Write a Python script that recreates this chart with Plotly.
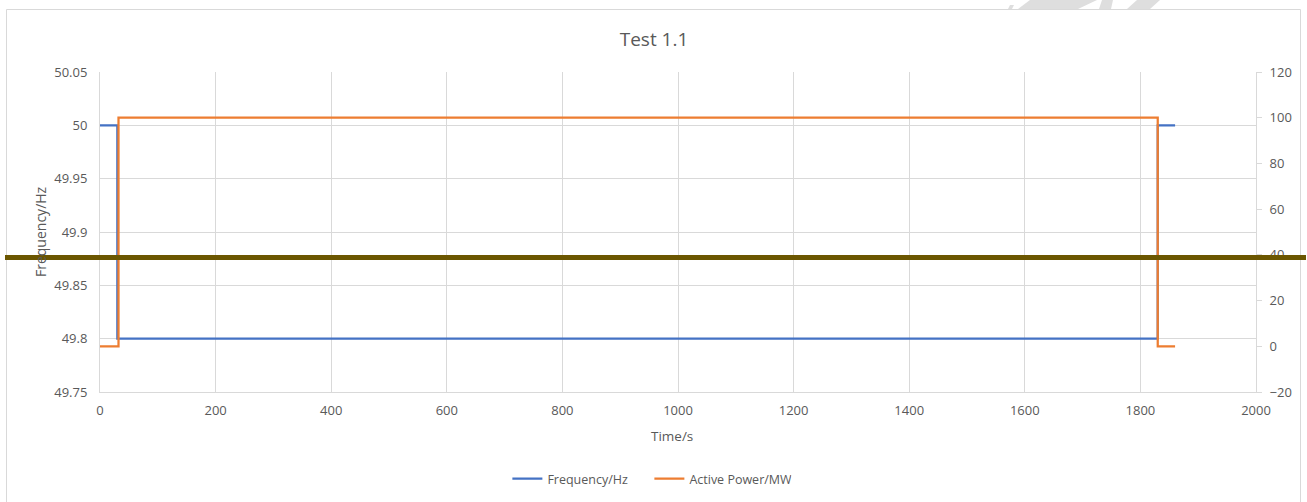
import plotly.graph_objects as go

# Data
freq_time = [0, 30, 1830, 1860]
freq_hz = [50.0, 49.8, 50.0, 50.0]
power_time = [0, 32, 1830, 1860]
power_mw = [0, 100, 0, 0]

left_ticks = [49.75, 49.8, 49.85, 49.9, 49.95, 50.0, 50.05]
left_labels = ["49.75", "49.8", "49.85", "49.9", "49.95", "50", "50.05"]
right_ticks = [-20, 0, 20, 40, 60, 80, 100, 120]
x_ticks = list(range(0, 2001, 200))

W, H = 1307, 502
L, R, T, B = 100, 1256, 72, 392  # plot area in page pixels


def px(x):
    return (x - L) / (R - L)


def py(y):
    return (B - y) / (B - T)


FONT = "Open Sans"
TXT = "#595959"
GRID = "#d9d9d9"

fig = go.Figure()
fig.add_trace(go.Scatter(x=freq_time, y=freq_hz, mode="lines", line_shape="hv",
                         name="Frequency/Hz", line=dict(color="#4472C4", width=2.25)))
fig.add_trace(go.Scatter(x=power_time, y=power_mw, mode="lines", line_shape="hv",
                         name="Active Power/MW", yaxis="y2",
                         line=dict(color="#ED7D31", width=2.25)))

shapes = [
    dict(type="rect", xref="paper", yref="paper", x0=px(6.5), x1=px(1300.5), y0=py(520), y1=py(9.5),
         line=dict(color="#d9d9d9", width=1), fillcolor="rgba(0,0,0,0)", layer="below"),
    dict(type="line", xref="paper", yref="paper", x0=px(5), x1=px(1306), y0=py(257.5), y1=py(257.5),
         line=dict(color="#6b5600", width=5)),
]
wm = [
    [(1008, 9), (1012, 9), (1014, 5), (1010, 5)],
    [(1030, 0), (1097, 0), (1078, 9), (1018, 9)],
    [(1102, 0), (1113, 0), (1111, 9), (1099, 9)],
    [(1137, 0), (1160, 0), (1150, 9), (1127, 9)],
]
for poly in wm:
    path = "M " + " L ".join(f"{px(a)},{py(b)}" for a, b in poly) + " Z"
    shapes.append(dict(type="path", xref="paper", yref="paper", path=path,
                       fillcolor="#dedede", line=dict(width=0)))

annotations = [
    dict(text="Frequency/Hz", xref="paper", yref="paper", x=px(40), y=py(232),
         xanchor="center", yanchor="middle", textangle=-90, showarrow=False,
         font=dict(size=14, color=TXT, family=FONT)),
    dict(text="Time/s", xref="paper", yref="paper", x=px(672), y=py(436),
         xanchor="center", yanchor="middle", showarrow=False,
         font=dict(size=13.5, color=TXT, family=FONT)),
]

fig.update_layout(
    width=W, height=H,
    margin=dict(l=L, r=W - R, t=T, b=H - B, autoexpand=False),
    paper_bgcolor="white", plot_bgcolor="white",
    font=dict(family=FONT, color=TXT, size=13),
    title=dict(text="Test 1.1", x=654 / W, xanchor="center", y=1 - 39 / H,
               yanchor="middle", font=dict(size=19, color=TXT, family=FONT)),
    xaxis=dict(range=[0, 2000], tickvals=x_ticks, showgrid=True, gridcolor=GRID, gridwidth=1,
               zeroline=False, showline=True, linecolor=GRID, ticks="", automargin=False,
               ticklabelstandoff=6, tickfont=dict(size=13, color=TXT)),
    yaxis=dict(range=[49.75, 50.05], tickvals=left_ticks, ticktext=left_labels, showgrid=True,
               gridcolor=GRID, zeroline=False, showline=True, linecolor=GRID, ticks="",
               ticklabelstandoff=9, automargin=False,
               tickfont=dict(size=13, color=TXT)),
    yaxis2=dict(range=[-20, 120], tickvals=right_ticks, overlaying="y", side="right",
                showgrid=False, zeroline=False, showline=True, linecolor=GRID,
                ticks="outside", ticklen=5, tickcolor=GRID, ticklabelstandoff=5, automargin=False,
                tickfont=dict(size=13, color=TXT)),
    legend=dict(orientation="h", x=px(512) - 0.004, xanchor="left", y=py(479), yanchor="middle",
                font=dict(size=12.5, color=TXT), entrywidth=97, bgcolor="rgba(0,0,0,0)"),
    shapes=shapes,
    annotations=annotations,
)

fig.write_html("out.html", config={"displayModeBar": False},
               post_script="document.body.style.margin='0';document.body.style.overflow='hidden';")
